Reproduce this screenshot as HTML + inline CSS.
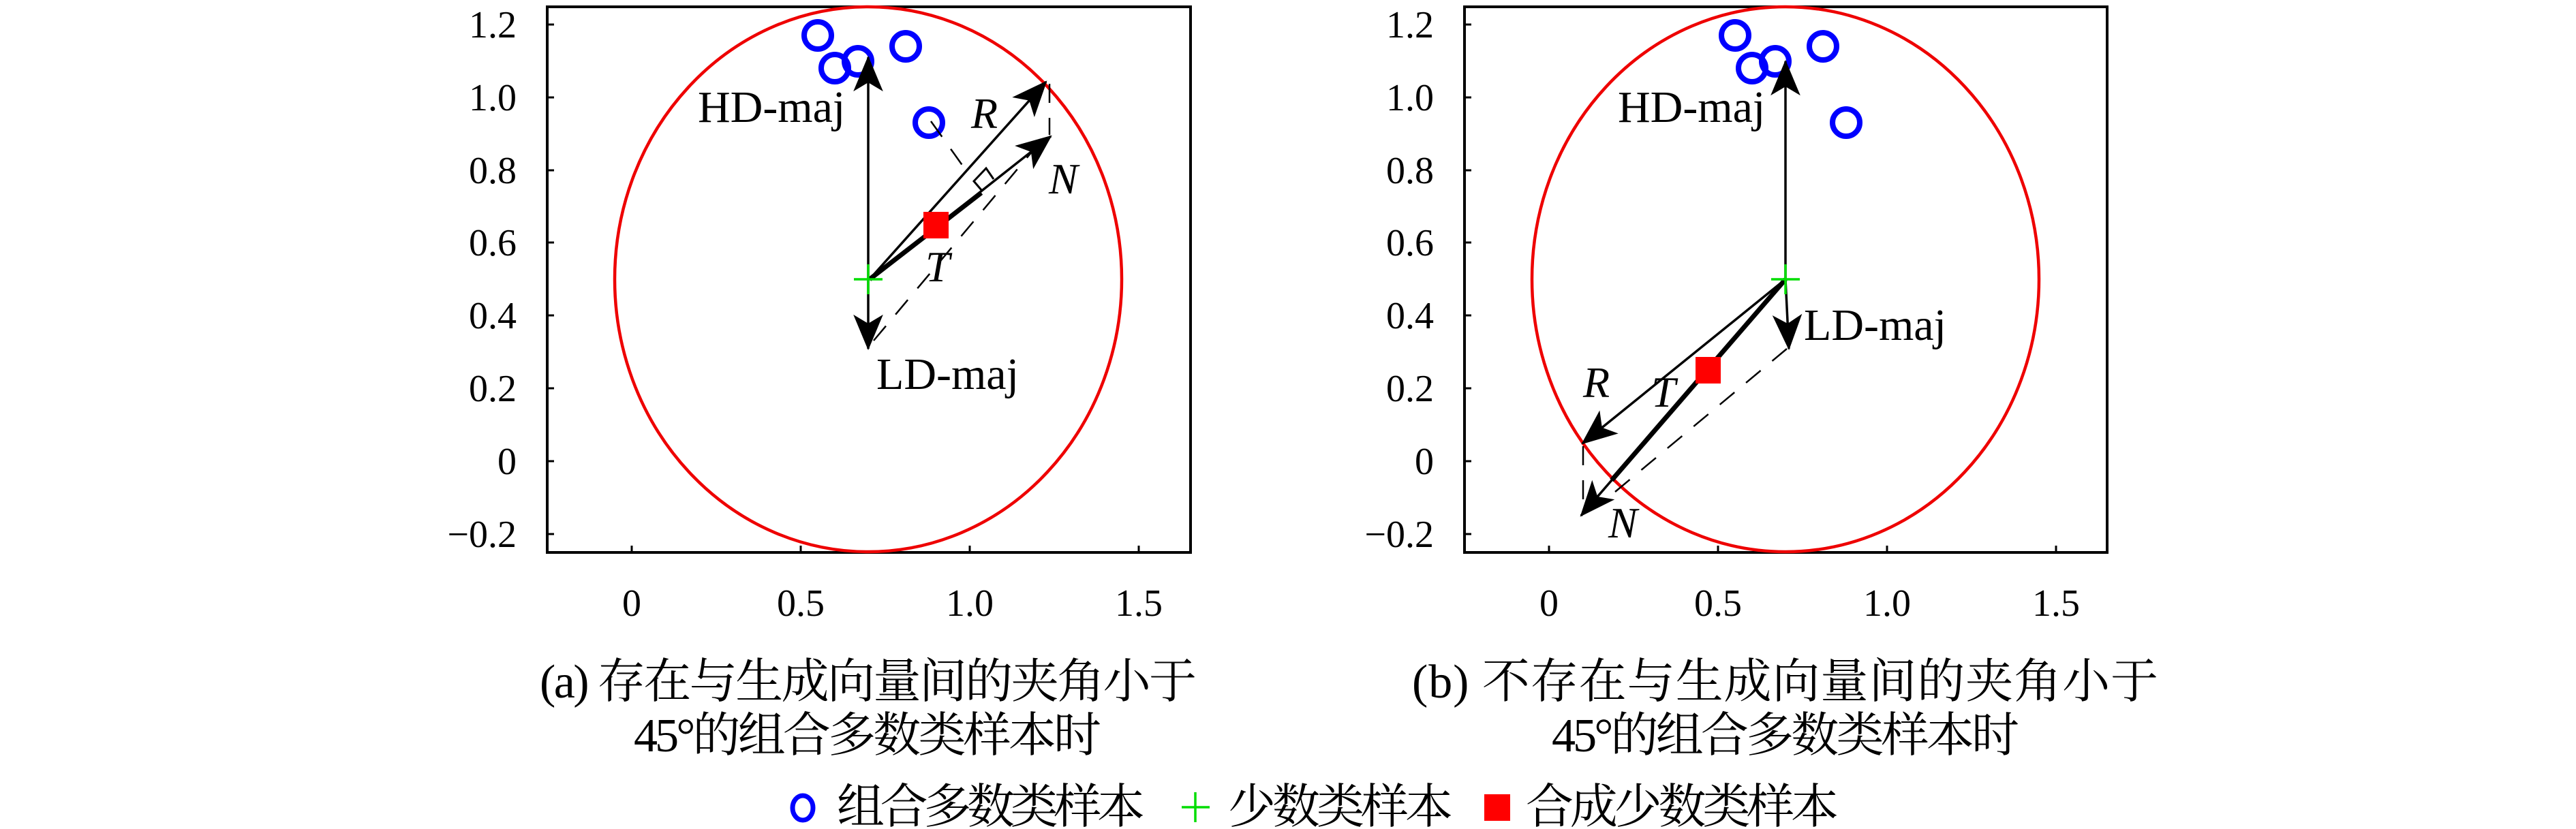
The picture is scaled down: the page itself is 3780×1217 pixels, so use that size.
<!DOCTYPE html>
<html><head><meta charset="utf-8"><style>
html,body{margin:0;padding:0;background:#fff}
svg{display:block}
.t{font-family:"Liberation Serif",serif;font-size:56px;fill:#000}
.l{font-family:"Liberation Serif",serif;font-size:66px;fill:#000}
.i{font-family:"Liberation Serif",serif;font-size:64px;font-style:italic;fill:#000}
.c{font-family:"Liberation Serif","Noto Serif CJK SC",serif;font-size:70px;fill:#000}
</style></head><body>
<svg width="3780" height="1217" viewBox="0 0 3780 1217" xmlns="http://www.w3.org/2000/svg">
<defs>
<marker id="a" markerUnits="userSpaceOnUse" markerWidth="60" markerHeight="60" viewBox="-50 -25 55 50" refX="0" refY="0" orient="auto">
<path d="M2,0 L-46,-20 L-34,0 L-46,20 Z" fill="#000"/>
</marker>
</defs>
<g id="L">
<rect x="803" y="10" width="944" height="801" fill="none" stroke="#000" stroke-width="4"/>
<g stroke="#000" stroke-width="3">
<line x1="803" y1="36" x2="813" y2="36"/><line x1="803" y1="143" x2="813" y2="143"/><line x1="803" y1="250" x2="813" y2="250"/><line x1="803" y1="356" x2="813" y2="356"/><line x1="803" y1="463" x2="813" y2="463"/><line x1="803" y1="570" x2="813" y2="570"/><line x1="803" y1="677" x2="813" y2="677"/><line x1="803" y1="784" x2="813" y2="784"/>
<line x1="927" y1="811" x2="927" y2="801"/><line x1="1175" y1="811" x2="1175" y2="801"/><line x1="1423" y1="811" x2="1423" y2="801"/><line x1="1671" y1="811" x2="1671" y2="801"/>
</g>
<g class="t" text-anchor="end">
<text x="758" y="55">1.2</text><text x="758" y="162">1.0</text><text x="758" y="269">0.8</text><text x="758" y="375">0.6</text><text x="758" y="482">0.4</text><text x="758" y="589">0.2</text><text x="758" y="696">0</text><text x="758" y="803">−0.2</text>
</g>
<g class="t" text-anchor="middle">
<text x="927" y="904">0</text><text x="1175" y="904">0.5</text><text x="1423" y="904">1.0</text><text x="1671" y="904">1.5</text>
</g>
<ellipse cx="1274" cy="410" rx="372" ry="400" fill="none" stroke="#e00" stroke-width="4.5"/>
<g fill="none" stroke="#00f" stroke-width="8">
<circle cx="1200" cy="52" r="20"/><circle cx="1225" cy="100" r="20"/><circle cx="1259" cy="90" r="20"/><circle cx="1329" cy="68" r="20"/><circle cx="1363" cy="180" r="20"/>
</g>
<g stroke="#000" stroke-width="2.5" stroke-dasharray="28,22" fill="none">
<line x1="1282" y1="500" x2="1520" y2="216"/>
<line x1="1540" y1="123" x2="1540" y2="198"/>
<line x1="1366" y1="178" x2="1416" y2="248"/>
</g>
<polyline points="1441,280 1429,266 1447,247 1458,263" fill="none" stroke="#000" stroke-width="3"/>
<g stroke="#000" stroke-width="3.5" fill="none">
<line x1="1274" y1="410" x2="1274" y2="84" marker-end="url(#a)"/>
<line x1="1274" y1="410" x2="1274" y2="512" marker-end="url(#a)"/>
<line x1="1276" y1="410" x2="1535" y2="120" marker-end="url(#a)"/>
<line x1="1276" y1="410" x2="1542" y2="200" marker-end="url(#a)"/>
<line x1="1276" y1="410" x2="1440" y2="283" stroke-width="7"/>
</g>
<rect x="1355" y="311" width="37" height="39" fill="#f00"/>
<g stroke="#0d0" stroke-width="3.5"><line x1="1253" y1="410" x2="1295" y2="410"/><line x1="1274" y1="388" x2="1274" y2="432"/></g>
<text class="l" x="1024" y="179">HD-maj</text>
<text class="l" x="1286" y="571">LD-maj</text>
<text class="i" x="1425" y="188">R</text>
<text class="i" x="1539" y="284">N</text>
<text class="i" x="1358" y="413">T</text>
</g>
<g id="R">
<rect x="2149" y="10" width="943" height="801" fill="none" stroke="#000" stroke-width="4"/>
<g stroke="#000" stroke-width="3">
<line x1="2149" y1="36" x2="2159" y2="36"/><line x1="2149" y1="143" x2="2159" y2="143"/><line x1="2149" y1="250" x2="2159" y2="250"/><line x1="2149" y1="356" x2="2159" y2="356"/><line x1="2149" y1="463" x2="2159" y2="463"/><line x1="2149" y1="570" x2="2159" y2="570"/><line x1="2149" y1="677" x2="2159" y2="677"/><line x1="2149" y1="784" x2="2159" y2="784"/>
<line x1="2273" y1="811" x2="2273" y2="801"/><line x1="2521" y1="811" x2="2521" y2="801"/><line x1="2769" y1="811" x2="2769" y2="801"/><line x1="3017" y1="811" x2="3017" y2="801"/>
</g>
<g class="t" text-anchor="end">
<text x="2104" y="55">1.2</text><text x="2104" y="162">1.0</text><text x="2104" y="269">0.8</text><text x="2104" y="375">0.6</text><text x="2104" y="482">0.4</text><text x="2104" y="589">0.2</text><text x="2104" y="696">0</text><text x="2104" y="803">−0.2</text>
</g>
<g class="t" text-anchor="middle">
<text x="2273" y="904">0</text><text x="2521" y="904">0.5</text><text x="2769" y="904">1.0</text><text x="3017" y="904">1.5</text>
</g>
<ellipse cx="2620" cy="410" rx="372" ry="400" fill="none" stroke="#e00" stroke-width="4.5"/>
<g fill="none" stroke="#00f" stroke-width="8">
<circle cx="2546" cy="52" r="20"/><circle cx="2571" cy="100" r="20"/><circle cx="2605" cy="90" r="20"/><circle cx="2675" cy="68" r="20"/><circle cx="2709" cy="180" r="20"/>
</g>
<g stroke="#000" stroke-width="2.5" stroke-dasharray="28,22" fill="none">
<line x1="2622" y1="512" x2="2370" y2="722"/>
<line x1="2323" y1="655" x2="2323" y2="752"/>
</g>
<g stroke="#000" stroke-width="3.5" fill="none">
<line x1="2620" y1="410" x2="2620" y2="90" marker-end="url(#a)"/>
<line x1="2620" y1="410" x2="2625" y2="512" marker-end="url(#a)"/>
<line x1="2620" y1="410" x2="2322" y2="651" marker-end="url(#a)"/>
<line x1="2620" y1="410" x2="2320" y2="757" marker-end="url(#a)"/>
<line x1="2620" y1="410" x2="2365" y2="705" stroke-width="7"/>
</g>
<rect x="2488" y="524" width="37" height="39" fill="#f00"/>
<g stroke="#0d0" stroke-width="3.5"><line x1="2599" y1="410" x2="2641" y2="410"/><line x1="2620" y1="388" x2="2620" y2="432"/></g>
<text class="l" x="2374" y="179">HD-maj</text>
<text class="l" x="2647" y="499">LD-maj</text>
<text class="i" x="2323" y="583">R</text>
<text class="i" x="2423" y="597">T</text>
<text class="i" x="2360" y="789">N</text>
</g>
<text class="c" x="792" y="1024" textLength="964">(a) 存在与生成向量间的夹角小于</text>
<text class="c" x="930" y="1103" textLength="686">45°的组合多数类样本时</text>
<text class="c" x="2072" y="1024" textLength="1095">(b) 不存在与生成向量间的夹角小于</text>
<text class="c" x="2277" y="1103" textLength="686">45°的组合多数类样本时</text>
<ellipse cx="1178" cy="1186" rx="15" ry="18" fill="none" stroke="#00f" stroke-width="7"/>
<text class="c" x="1228" y="1208" textLength="452">组合多数类样本</text>
<g stroke="#0d0" stroke-width="3.5"><line x1="1734" y1="1185" x2="1775" y2="1185"/><line x1="1754" y1="1163" x2="1754" y2="1207"/></g>
<text class="c" x="1802" y="1208" textLength="330">少数类样本</text>
<rect x="2178" y="1166" width="38" height="39" fill="#f00"/>
<text class="c" x="2239" y="1208" textLength="459">合成少数类样本</text>
</svg>
</body></html>
